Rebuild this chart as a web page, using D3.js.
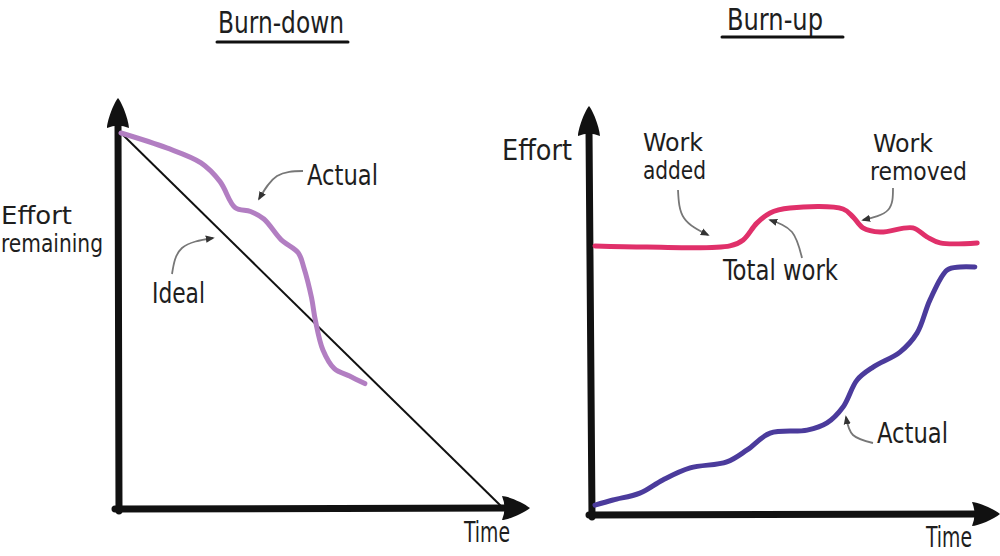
<!DOCTYPE html>
<html><head><meta charset="utf-8">
<script src="https://cdn.jsdelivr.net/npm/d3@7"></script>
<style>
html,body{margin:0;padding:0;background:#fff;}
text{font-family:"DejaVu Sans Condensed","Liberation Sans Narrow","Open Sans",sans-serif;fill:#1e1e1e;}
</style></head>
<body>
<svg id="c" width="1000" height="556"></svg>
<script>
// ---- Burn-down data (time %, effort remaining %) ----
const idealTime = [0, 100];
const idealEffort = [100, 0];
const bdActualTime   = [0, 12, 21, 26, 30, 34, 37.5, 42, 46.5, 48, 50, 51, 53, 56, 60, 64];
const bdActualEffort = [100, 96, 92, 87, 80, 79, 77, 71.5, 68, 64, 56, 50, 42, 37, 35, 33];

// ---- Burn-up data (time %, effort units) ----
const totalTime = [0, 13.3, 34.6, 38, 41.5, 44.9, 50, 63.6, 66.2, 68.7, 73.1, 81.5, 85.1, 88.5, 98];
const totalWork = [88.7, 88.3, 88.7, 90.7, 96.3, 99.7, 101.3, 101, 98.3, 94.7, 93.3, 94.7, 91.7, 89.7, 89.7];
const buActualTime = [0, 4.6, 11.5, 17.4, 24.4, 33.8, 39, 44.9, 54.4, 59.5, 63.6, 67.2, 71.3, 78.2, 82.6, 85.9, 90.3, 93.6, 97.4];
const buActualWork = [2.3, 4, 6.3, 10.7, 14.7, 16.7, 20.7, 26.3, 27.3, 29.7, 35, 44, 48.3, 53.3, 59.7, 70.7, 80.7, 81.7, 81.7];

const titles = ["Burn-down", "Burn-up"];

const svg = d3.select("#c");
const defs = svg.append("defs");
defs.append("marker").attr("id","ah").attr("viewBox","0 0 10 10").attr("refX",8).attr("refY",5)
  .attr("markerWidth",5).attr("markerHeight",5).attr("orient","auto")
  .append("path").attr("d","M0,1 L10,5 L0,9 Z").attr("fill","#333");

// scales
const xL = d3.scaleLinear([0,100],[121,502]);
const yL = d3.scaleLinear([0,100],[507,133]);
const xR = d3.scaleLinear([0,100],[595,985]);
const yR = d3.scaleLinear([0,110],[512,182]);

function axisArrow(g, x1, y1, x2, y2, dir){
  g.append("line").attr("x1",x1).attr("y1",y1).attr("x2",x2).attr("y2",y2)
    .attr("stroke","#111").attr("stroke-width",7).attr("stroke-linecap","round");
  let d;
  if(dir==="up"){
    d = `M${x2},${y2-24} C${x2+5},${y2-18} ${x2+11},${y2} ${x2+11},${y2+6} Q${x2},${y2+1} ${x2-11},${y2+6} C${x2-11},${y2} ${x2-5},${y2-18} ${x2},${y2-24} Z`;
  } else {
    d = `M${x2+22},${y2} C${x2+16},${y2+5} ${x2},${y2+12} ${x2-6},${y2+12} Q${x2-1},${y2} ${x2-6},${y2-12} C${x2},${y2-12} ${x2+16},${y2-5} ${x2+22},${y2} Z`;
  }
  g.append("path").attr("d",d).attr("fill","#111");
}

function note(g, pts){
  g.append("path").attr("d", d3.line().curve(d3.curveNatural)(pts))
   .attr("fill","none").attr("stroke","#777").attr("stroke-width",1.8)
   .attr("marker-end","url(#ah)");
}

function label(g, x, y, t, w, size, anchor){
  g.append("text").attr("x",x).attr("y",y).attr("font-size",size||28)
   .attr("text-anchor",anchor||"start")
   .attr("textLength",w).attr("lengthAdjust","spacingAndGlyphs").text(t);
}

// ---------- Left: Burn-down ----------
const L = svg.append("g");
label(L, 218, 33, titles[0], 126, 31);
L.append("line").attr("x1",217).attr("x2",348).attr("y1",42).attr("y2",42)
  .attr("stroke","#111").attr("stroke-width",3).attr("stroke-linecap","round");

axisArrow(L, 119, 511, 118, 122, "up");
axisArrow(L, 115, 509, 508, 508, "right");

L.append("path").attr("d", d3.line()(idealTime.map((t,i)=>[xL(t), yL(idealEffort[i])])))
  .attr("stroke","#111").attr("stroke-width",2).attr("fill","none");

L.append("path").attr("d", d3.line().curve(d3.curveCatmullRom)(bdActualTime.map((t,i)=>[xL(t), yL(bdActualEffort[i])])))
  .attr("stroke","#b27ec2").attr("stroke-width",5).attr("fill","none").attr("stroke-linecap","round");

label(L, 1, 224, "Effort", 71, 24);
label(L, 1, 252, "remaining", 102, 24);
label(L, 307, 185, "Actual", 71);
label(L, 152, 303, "Ideal", 53);
label(L, 464, 542, "Time", 46);
note(L, [[303,171],[277,176],[259,199]]);
note(L, [[172,274],[182,248],[213,238]]);

// ---------- Right: Burn-up ----------
const R = svg.append("g");
label(R, 727, 30, titles[1], 96, 31);
R.append("line").attr("x1",722).attr("x2",843).attr("y1",37).attr("y2",37)
  .attr("stroke","#111").attr("stroke-width",3).attr("stroke-linecap","round");

axisArrow(R, 592, 517, 589, 130, "up");
axisArrow(R, 589, 515, 978, 514, "right");

R.append("path").attr("d", d3.line().curve(d3.curveCatmullRom)(totalTime.map((t,i)=>[xR(t), yR(totalWork[i])])))
  .attr("stroke","#e0306a").attr("stroke-width",5).attr("fill","none").attr("stroke-linecap","round");
R.append("path").attr("d", d3.line().curve(d3.curveCatmullRom)(buActualTime.map((t,i)=>[xR(t), yR(buActualWork[i])])))
  .attr("stroke","#4b3b9c").attr("stroke-width",5).attr("fill","none").attr("stroke-linecap","round");

label(R, 502, 160, "Effort", 70);
label(R, 643, 151, "Work", 60, 24);
label(R, 643, 179, "added", 63, 24);
label(R, 873, 152, "Work", 60, 24);
label(R, 870, 180, "removed", 97, 24);
label(R, 723, 280, "Total work", 115);
label(R, 877, 443, "Actual", 71);
label(R, 926, 547, "Time", 46);
note(R, [[678,190],[684,218],[708,235]]);
note(R, [[893,188],[888,210],[863,220]]);
note(R, [[802,258],[792,232],[770,220]]);
note(R, [[873,443],[853,435],[846,417]]);
</script>
</body></html>
